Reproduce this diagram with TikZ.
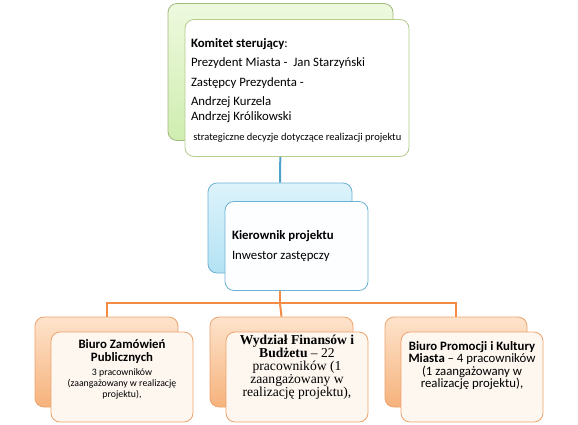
\documentclass[tikz,border=0pt]{standalone}
\usepackage{fontspec}
\setmainfont{Carlito}
\newfontfamily\serifbox{Liberation Serif}
\definecolor{greentop}{HTML}{EEF9DE}
\definecolor{greenbot}{HTML}{CFEDB0}
\definecolor{greenedge}{HTML}{B4CC8C}
\definecolor{bluetop}{HTML}{DDF3FB}
\definecolor{bluebot}{HTML}{B3E2F4}
\definecolor{blueedge}{HTML}{6DB2D2}
\definecolor{orangetop}{HTML}{FDE3CC}
\definecolor{orangebot}{HTML}{F6B27C}
\definecolor{orangeedge}{HTML}{EBA26C}
\definecolor{creamfill}{HTML}{FEF7F0}
\definecolor{bluewire}{HTML}{4EA3CC}
\definecolor{orangewire}{HTML}{F28C44}
\usetikzlibrary{positioning,backgrounds,calc}

\begin{document}
\begin{tikzpicture}[x=1pt,y=-1pt,
  backbox/.style={draw, rounded corners=9pt, inner sep=0pt, line width=0.8pt},
  frontbox/.style={draw, rounded corners=9pt, inner sep=0pt, line width=0.8pt},
  greenback/.style={backbox, draw=greenedge!90!black, top color=greentop, bottom color=greenbot},
  greenfront/.style={frontbox, draw=greenedge, fill=white!96!greentop},
  blueback/.style={backbox, draw=blueedge, top color=bluetop, bottom color=bluebot},
  bluefront/.style={frontbox, draw=blueedge, fill=white!95!bluetop},
  orangeback/.style={backbox, draw=orangeedge, top color=orangetop, bottom color=orangebot},
  orangefront/.style={frontbox, draw=orangeedge, fill=creamfill},
  wire/.style={line width=2pt}
]
  \useasboundingbox (0,0) rectangle (578,424);
  % Komitet sterujacy
  \node[greenback, minimum width=225pt, minimum height=137pt] (komitetback) at (280.5,72) {};
  \node[greenfront, minimum width=224pt, minimum height=137pt,
        text width=212pt, inner xsep=6pt, align=flush left, font=\fontsize{12.8}{15}\selectfont] (komitet) at (297,88)
    {\rule{0pt}{14pt}\textbf{Komitet sterujący}:\\[4pt]
     Prezydent Miasta -\ \ Jan Starzyński\\[5pt]
     Zastępcy Prezydenta -\\[4pt]
     Andrzej Kurzela\\
     Andrzej Królikowski\\[4.5pt]
     {\fontsize{10.5}{10}\selectfont\ strategiczne decyzje dotyczące realizacji projektu}};
  % Kierownik projektu
  \node[blueback, minimum width=144pt, minimum height=90pt] (kierback) at (280,228) {};
  \node[bluefront, minimum width=143pt, minimum height=89pt,
        text width=129pt, inner xsep=7pt, align=flush left, font=\fontsize{12.8}{15}\selectfont] (kier) at (296.5,246)
    {\textbf{Kierownik projektu}\\[5pt]
     Inwestor zastępczy};
  % Biura
  \node[orangeback, minimum width=143pt, minimum height=90pt] (biuroAback) at (106.5,362) {};
  \node[orangefront, minimum width=142pt, minimum height=90pt] (biuroA) at (122,377) {};
  \node[orangeback, minimum width=143pt, minimum height=90pt] (biuroBback) at (281.5,362) {};
  \node[orangefront, minimum width=142pt, minimum height=90pt] (biuroB) at (297,377) {};
  \node[orangeback, minimum width=142pt, minimum height=90pt] (biuroCback) at (456,362) {};
  \node[orangefront, minimum width=142pt, minimum height=90pt] (biuroC) at (472,377) {};
  % Texts of the offices
  \node[anchor=north, align=center, inner sep=0pt, font=\fontsize{12.8}{13}\selectfont] (biuroAtxt)
    at ([yshift=-8pt]biuroA.north)
    {\textbf{Biuro Zamówień}\\ \textbf{Publicznych}\\[0.5pt]
     {\fontsize{9.8}{11}\selectfont 3 pracowników}\\[-2pt]
     {\fontsize{9.8}{11}\selectfont (zaangażowany w realizację}\\[-2pt]
     {\fontsize{9.8}{11}\selectfont projektu),}};
  \node[anchor=north, align=center, inner sep=0pt, font=\serifbox\fontsize{13.6}{13}\selectfont] (biuroBtxt)
    at ([yshift=-3pt]biuroB.north)
    {\textbf{Wydział Finansów i}\\
     \textbf{Budżetu} – 22\\
     pracowników (1\\
     zaangażowany w\\
     realizację projektu),};
  \node[anchor=north, align=center, inner sep=0pt, font=\fontsize{12.8}{12.5}\selectfont] (biuroCtxt)
    at ([yshift=-9.5pt]biuroC.north)
    {\textbf{Biuro Promocji i Kultury}\\
     \textbf{Miasta} – 4 pracowników\\
     (1 zaangażowany w\\
     realizację projektu),};
  % Connectors
  \begin{pgfonlayer}{background}
    \draw[wire, bluewire] (komitetback.south) -- (kierback.north);
    \coordinate (bus) at ($(kierback.south)+(0,30)$);
    \draw[wire, orangewire] (kierback.south) -- (bus);
    \draw[wire, orangewire] (biuroAback.north) |- (bus) -| (biuroCback.north);
    \draw[wire, orangewire] (bus) -- (biuroBback.north);
  \end{pgfonlayer}
\end{tikzpicture}
\end{document}
